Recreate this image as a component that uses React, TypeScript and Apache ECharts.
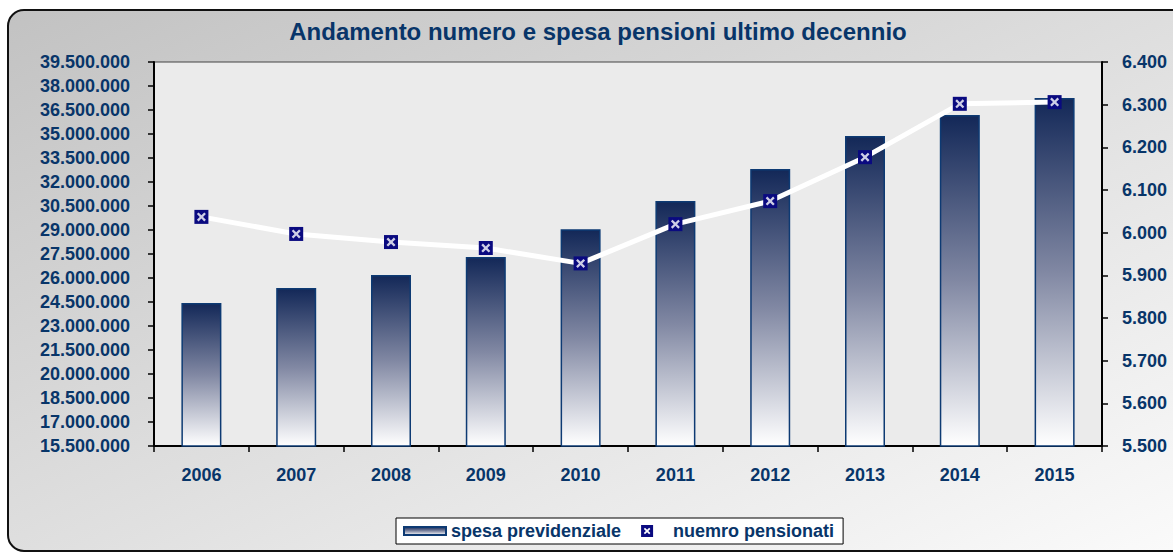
import React, { useEffect, useRef } from "react";
import * as echarts from "echarts";

const years = ["2006", "2007", "2008", "2009", "2010", "2011", "2012", "2013", "2014", "2015"];
const spesaPrevidenziale = [24440000, 25380000, 26190000, 27310000, 29040000, 30810000, 32810000, 34880000, 36190000, 37250000];
const numeroPensionati = [6037, 5997, 5978, 5964, 5928, 6020, 6074, 6177, 6302, 6306];
const leftTicks = [15500000, 17000000, 18500000, 20000000, 21500000, 23000000, 24500000, 26000000, 27500000, 29000000, 30500000, 32000000, 33500000, 35000000, 36500000, 38000000, 39500000];
const titleText = "Andamento numero e spesa pensioni ultimo decennio";
const barName = "spesa previdenziale";
const lineName = "nuemro pensionati";

const navyText = "#083569";
const fmt = (v: number) => String(Math.round(v)).replace(/\B(?=(\d{3})+(?!\d))/g, ".");

const holeSquare =
  "path://M0 0H20V20H0Z M8 10 L4.5 13.5 L6.5 15.5 L10 12 L13.5 15.5 L15.5 13.5 L12 10 L15.5 6.5 L13.5 4.5 L10 8 L6.5 4.5 L4.5 6.5 Z";
const xMark =
  "path://M3.5 5.5 L0 9 L2 11 L5.5 7.5 L9 11 L11 9 L7.5 5.5 L11 2 L9 0 L5.5 3.5 L2 0 L0 2 Z";

export default function App() {
  const ref = useRef<HTMLDivElement>(null);
  useEffect(() => {
    if (!ref.current) return;
    const chart = echarts.init(ref.current, null, { renderer: "svg" });
    const axisFont = { fontFamily: "Arial, 'Liberation Sans', sans-serif", fontWeight: "bold" as const, fontSize: 18, color: navyText };
    chart.setOption({
      animation: false,
      backgroundColor: "#ffffff",
      graphic: [
        {
          type: "rect",
          z: -10,
          shape: { x: 8, y: 10, width: 1200, height: 541, r: 16 },
          style: {
            fill: new echarts.graphic.LinearGradient(0, 0, 1, 1, [
              { offset: 0, color: "#c2c2c2" },
              { offset: 1, color: "#fbfbfb" },
            ]),
            stroke: "#111111",
            lineWidth: 2,
          },
        },
        {
          type: "text",
          x: 598,
          y: 31,
          style: {
            text: titleText,
            fill: navyText,
            font: "bold 24px Arial, 'Liberation Sans', sans-serif",
            textAlign: "center",
            textVerticalAlign: "middle",
          },
        },
      ],
      grid: {
        left: 154,
        right: 71,
        top: 62,
        bottom: 108,
        show: true,
        backgroundColor: "#ebebeb",
        borderColor: "#444444",
        borderWidth: 1,
      },
      legend: {
        left: 396,
        top: 518,
        backgroundColor: "#ffffff",
        borderColor: "#000000",
        borderWidth: 1,
        padding: [4, 9, 4, 7],
        itemWidth: 42,
        itemHeight: 12,
        itemGap: 20,
        textStyle: { ...axisFont },
        data: [
          { name: barName, icon: "path://M0 0H42V8H0Z" },
          { name: lineName, icon: holeSquare },
        ],
      },
      xAxis: {
        type: "category",
        data: years,
        boundaryGap: true,
        axisLine: { lineStyle: { color: "#000000", width: 2 } },
        axisTick: { show: true, length: 6, lineStyle: { color: "#000000", width: 1.5 } },
        axisLabel: { ...axisFont, margin: 20 },
        splitLine: { show: false },
      },
      yAxis: [
        {
          type: "value",
          position: "left",
          min: 15500000,
          max: 39500000,
          axisLine: { show: true, lineStyle: { color: "#000000", width: 2 } },
          axisTick: { show: true, length: 6, customValues: leftTicks, lineStyle: { color: "#000000", width: 1.5 } },
          axisLabel: { ...axisFont, margin: 24, customValues: leftTicks, formatter: (v: number) => fmt(v) },
          splitLine: { show: false },
        },
        {
          type: "value",
          position: "right",
          min: 5500,
          max: 6400,
          interval: 100,
          axisLine: { show: true, lineStyle: { color: "#000000", width: 2 } },
          axisTick: { show: true, length: 6, lineStyle: { color: "#000000", width: 1.5 } },
          axisLabel: { ...axisFont, margin: 20, formatter: (v: number) => fmt(v) },
          splitLine: { show: false },
        },
      ],
      series: [
        {
          name: barName,
          type: "bar",
          yAxisIndex: 0,
          barWidth: 40,
          data: spesaPrevidenziale,
          itemStyle: {
            color: new echarts.graphic.LinearGradient(0, 0, 0, 1, [
              { offset: 0, color: "#132858" },
              { offset: 0.5, color: "#8188a3" },
              { offset: 1, color: "#ffffff" },
            ]),
            borderColor: "#0d3a73",
            borderWidth: 1.5,
          },
          z: 2,
        },
        {
          name: lineName,
          type: "line",
          yAxisIndex: 1,
          data: numeroPensionati,
          symbol: "rect",
          symbolSize: 14,
          itemStyle: { color: "#0a0a80" },
          lineStyle: { color: "#ffffff", width: 5 },
          z: 3,
        },
        {
          name: "marker",
          type: "scatter",
          yAxisIndex: 1,
          data: numeroPensionati,
          symbol: xMark,
          symbolSize: 9,
          itemStyle: { color: "#ffffff" },
          silent: true,
          z: 5,
        },
      ],
    });
    return () => chart.dispose();
  }, []);
  return <div ref={ref} style={{ position: "absolute", left: 0, top: 0, width: 1173, height: 554 }} />;
}
